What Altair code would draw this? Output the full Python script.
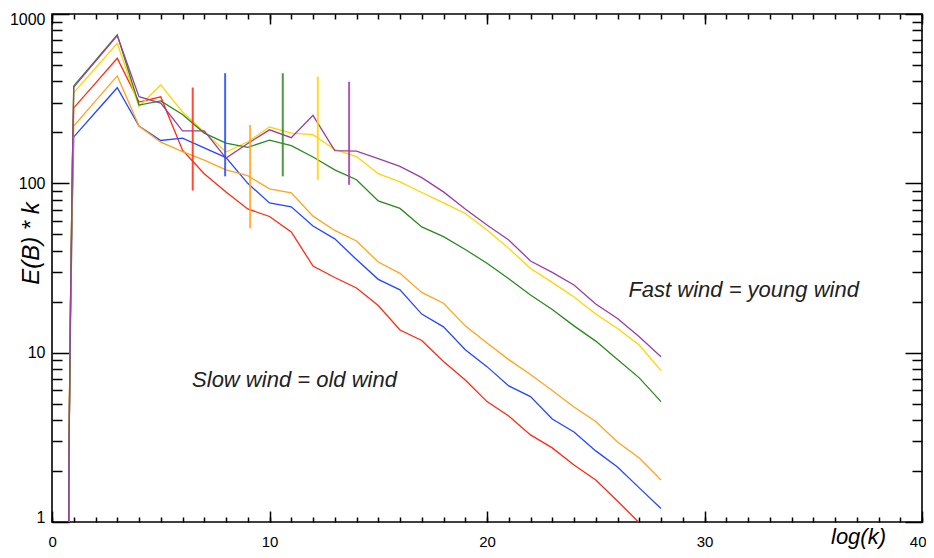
import altair as alt
import pandas as pd

# ---------------- data ----------------
k_vals = list(range(1, 29))
ramp_k = [0.76, 0.78, 0.85, 0.94]

series_names = ["red", "blue", "orange", "yellow", "green", "purple"]
series_colors = ["#ff2a12", "#2448ff", "#ffa41c", "#ffd400", "#2a8a1e", "#9a3fa0"]

ramp_red = [0.3, 2.6, 19, 130]
ramp_blue = [0.3, 2.5, 15, 80]
ramp_orange = [0.3, 2.5, 18, 98]
ramp_yellow = [0.3, 2.6, 19, 137]
ramp_green = [0.3, 2.6, 19, 137]
ramp_purple = [0.3, 2.6, 19, 137]

red = [279, 391, 548, 302, 324, 157, 114, 89, 70.6, 63.7, 51.6, 32.5, 27.8, 24.1,
       19, 13.6, 11.8, 8.87, 6.9, 5.14, 4.23, 3.27, 2.74, 2.17, 1.77, 1.33, 0.99, 0.8]
blue = [188, 263, 367, 218, 179, 185, 162, 142, 100, 76.6, 72.6, 56, 47, 35.5,
        27.1, 23.5, 16.9, 14.2, 10.4, 8.27, 6.36, 5.5, 4.06, 3.4, 2.63, 2.11, 1.59, 1.2]
orange = [218, 307, 431, 218, 175, 154, 137, 120, 111, 92.7, 87.8, 64, 52.7, 45.7,
          34.3, 29.4, 22.7, 19.6, 14.4, 11.4, 9.1, 7.43, 5.98, 4.78, 3.92, 2.97, 2.39, 1.77]
yellow = [343, 480, 672, 284, 381, 264, 201, 153, 176, 215, 198, 194, 158.6, 144,
          114, 102, 88.3, 76.6, 66.4, 53.1, 41.3, 31.4, 26, 21.3, 16.9, 13.9, 11.1, 7.83]
green = [376, 532, 753, 290, 307, 255, 198, 173, 163, 180, 167, 143, 120, 105,
         78.7, 71.1, 55.3, 48.4, 40.7, 33.7, 27.3, 21.9, 18, 14.4, 11.7, 9.1, 7.1, 5.14]
purple = [370, 525, 745, 325, 298, 204, 204, 141, 172, 207, 186, 252, 156, 155,
          140, 126, 108, 89, 70.6, 56.8, 46.3, 34.8, 29.8, 25.1, 19.4, 15.9, 12.4, 9.47]

bar_series = ["red", "blue", "orange", "green", "yellow", "purple"]
bar_k = [6.47, 7.96, 9.11, 10.61, 12.22, 13.66]
bar_lo = [90.6, 110, 54.3, 110, 105, 98]
bar_hi = [368, 447, 221, 447, 427, 398]

note_text = ["Slow wind = old wind", "Fast wind = young wind"]
note_k = [6.44, 26.5]
note_E = [6.9, 23.5]

x_major = [0, 10, 20, 30, 40]
x_minor = list(range(0, 41))
y_major = [1, 10, 100, 1000]
y_minor = [2, 3, 4, 5, 6, 7, 8, 9, 20, 30, 40, 50, 60, 70, 80, 90,
           200, 300, 400, 500, 600, 700, 800, 900]

# ---------------- tables ----------------
ramps = dict(red=ramp_red, blue=ramp_blue, orange=ramp_orange,
             yellow=ramp_yellow, green=ramp_green, purple=ramp_purple)
mains = dict(red=red, blue=blue, orange=orange, yellow=yellow, green=green, purple=purple)
rows = []
for s in series_names:
    for i, (kk, v) in enumerate(zip(ramp_k + k_vals, ramps[s] + mains[s])):
        rows.append({"series": s, "k": kk, "E": v, "i": i})
df_lines = pd.DataFrame(rows)
df_bars = pd.DataFrame({"series": bar_series, "k": bar_k, "lo": bar_lo, "hi": bar_hi})
df_notes = pd.DataFrame({"label": note_text, "k": note_k, "E": note_E})

FONT = "Liberation Sans"
xscale = alt.Scale(domain=[0, 40], nice=False, zero=False)
yscale = alt.Scale(type="log", domain=[1, 1000], nice=False)
cscale = alt.Scale(domain=series_names, range=series_colors)

tick_common = dict(domain=False, grid=False, tickColor="#000", tickWidth=1.5)

ax_x_bottom = alt.Axis(orient="bottom", values=x_major, tickSize=11, offset=-11,
                       labelPadding=12, labelFlush=True, labelFlushOffset=4,
                       labelFont=FONT, labelFontSize=15, labelColor="#000", format="d",
                       title="log(k)", titleFont=FONT, titleFontSize=22,
                       titleFontStyle="italic", titleFontWeight="normal",
                       titleColor="#000", titleX=806, titleY=32,
                       titleAlign="center", titleBaseline="alphabetic", **tick_common)
ax_x_bottom_minor = alt.Axis(orient="bottom", values=x_minor, tickSize=5, offset=-5,
                             labels=False, title=None, **tick_common)
ax_x_top = alt.Axis(orient="top", values=x_major, tickSize=10, offset=-10,
                    labels=False, title=None, **tick_common)
ax_x_top_minor = alt.Axis(orient="top", values=x_minor, tickSize=5, offset=-5,
                          labels=False, title=None, **tick_common)

ax_y_left = alt.Axis(orient="left", values=y_major, tickSize=17, offset=-17,
                     labelPadding=7, labelFlush=True, labelFlushOffset=3,
                     labelFont=FONT, labelFontSize=16, labelColor="#000", format="d",
                     title="E(B) * k", titleFont=FONT, titleFontSize=24,
                     titleFontStyle="italic", titleFontWeight="normal",
                     titleColor="#000", titleX=-38, titleY=229, titleAngle=270,
                     titleAlign="center", titleBaseline="middle", **tick_common)
ax_y_left_minor = alt.Axis(orient="left", values=y_minor, tickSize=10, offset=-10,
                           labels=False, title=None, **tick_common)
ax_y_right = alt.Axis(orient="right", values=y_major, tickSize=17, offset=-17,
                      labels=False, title=None, **tick_common)
ax_y_right_minor = alt.Axis(orient="right", values=y_minor, tickSize=10, offset=-10,
                            labels=False, title=None, **tick_common)

lines = alt.Chart(df_lines).mark_line(strokeWidth=1.3, clip=True).encode(
    x=alt.X("k:Q", scale=xscale, axis=ax_x_bottom),
    y=alt.Y("E:Q", scale=yscale, axis=ax_y_left),
    color=alt.Color("series:N", scale=cscale, legend=None),
    order="i:Q",
)

bars = alt.Chart(df_bars).mark_rule(strokeWidth=2, opacity=0.85).encode(
    x=alt.X("k:Q", scale=xscale, axis=ax_x_bottom_minor),
    y=alt.Y("lo:Q", scale=yscale, axis=ax_y_left_minor),
    y2="hi:Q",
    color=alt.Color("series:N", scale=cscale, legend=None),
)

notes = alt.Chart(df_notes).mark_text(
    font=FONT, fontSize=22, fontStyle="italic", align="left",
    baseline="middle", color="#222"
).encode(
    x=alt.X("k:Q", scale=xscale, axis=ax_x_top),
    y=alt.Y("E:Q", scale=yscale, axis=ax_y_right),
    text="label:N",
)

ghost = alt.Chart(df_bars).mark_rule(opacity=0).encode(
    x=alt.X("k:Q", scale=xscale, axis=ax_x_top_minor),
    y=alt.Y("lo:Q", scale=yscale, axis=ax_y_right_minor),
)

chart = alt.layer(lines, bars, notes, ghost).resolve_axis(
    x="independent", y="independent"
).properties(
    width=870, height=508,
    autosize=alt.AutoSizeParams(type="none"),
    padding={"left": 44, "top": 6, "right": 4, "bottom": 28},
    background="white",
).configure_view(stroke="#000", strokeWidth=1.6)

chart.save("out.html", embed_options={"renderer": "svg", "actions": False})
